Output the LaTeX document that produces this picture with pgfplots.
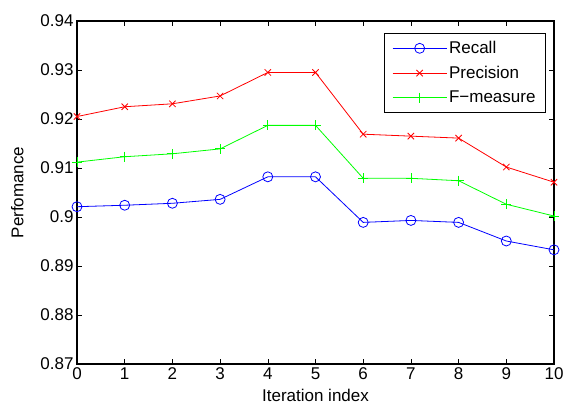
\documentclass[border=0pt]{standalone}
\usepackage{pgfplots}
\pgfplotsset{compat=1.18}
\usepackage{fontspec}
\setmainfont{Liberation Sans}
\newcommand{\tf}{\fontsize{17bp}{19bp}\selectfont}
\begin{document}
\begin{tikzpicture}
\path[use as bounding box] (-77bp,-45bp) rectangle (488bp,364bp);
\begin{axis}[
  at={(0,0)}, anchor=south west,
  scale only axis,
  width=477bp, height=343bp,
  xmin=0, xmax=10, ymin=0.87, ymax=0.94,
  xtick={0,1,...,10},
  ytick={0.87,0.88,0.89,0.90,0.91,0.92,0.93,0.94},
  yticklabels={0.87,0.88,0.89,0.9,0.91,0.92,0.93,0.94},
  tick align=inside,
  major tick length=5bp,
  tick style={black, line width=0.6bp},
  axis line style={black, line width=1.2bp},
  /pgf/number format/assume math mode=true,
  tick label style={font=\tf},
  label style={font=\tf},
  xlabel={Iteration index},
  ylabel={Perfomance},
  xlabel style={at={(axis description cs:0.5,0)}, anchor=north, yshift=-22bp},
  ylabel style={at={(axis description cs:0,0.5)}, anchor=south, xshift=0bp, yshift=50bp},
  every axis plot/.append style={line width=0.8bp},
  legend style={at={(0.983,0.965)}, anchor=north east, font=\tf,
    draw=black, line width=0.8bp, inner xsep=8bp, inner ysep=6bp,
    row sep=7bp, cells={anchor=west}},
  legend cell align=left,
  legend image code/.code={
    \draw[mark repeat=2, mark phase=2] plot coordinates {(0bp,0bp) (27bp,0bp) (54bp,0bp)};
  },
]
\addplot[blue, mark=o, mark size=5bp, mark options={line width=0.8bp}] coordinates {
(0,0.9021) (1,0.9024) (2,0.9028) (3,0.9036) (4,0.9082) (5,0.9082)
(6,0.8989) (7,0.8993) (8,0.8989) (9,0.8951) (10,0.8933)};
\addlegendentry{Recall}
\addplot[red, mark=x, mark size=4.5bp, mark options={line width=0.8bp}] coordinates {
(0,0.9205) (1,0.9225) (2,0.9231) (3,0.9247) (4,0.9295) (5,0.9295)
(6,0.9169) (7,0.9165) (8,0.9161) (9,0.9102) (10,0.9071)};
\addlegendentry{Precision}
\addplot[green, mark=+, mark size=5bp, mark options={line width=0.8bp}] coordinates {
(0,0.9112) (1,0.9123) (2,0.9129) (3,0.9139) (4,0.9187) (5,0.9187)
(6,0.9079) (7,0.9079) (8,0.9074) (9,0.9026) (10,0.9002)};
\addlegendentry{F\textminus measure}
\end{axis}
\end{tikzpicture}
\end{document}
